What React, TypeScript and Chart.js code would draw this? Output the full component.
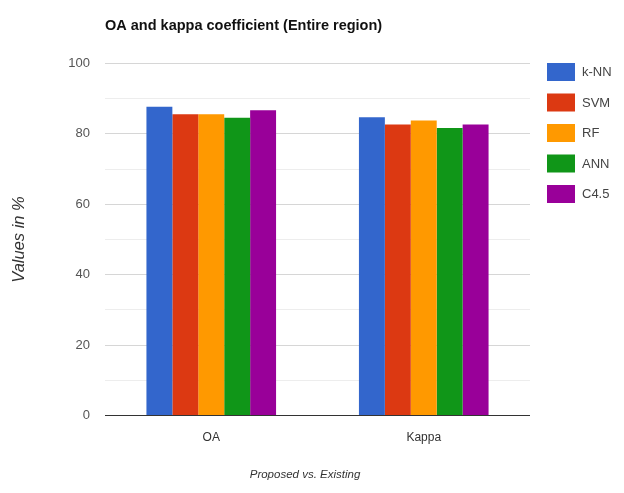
import React, { useEffect, useRef } from "react";
import { Chart, registerables } from "chart.js";

Chart.register(...registerables);

const categories = ["OA", "Kappa"];
const seriesNames = ["k-NN", "SVM", "RF", "ANN", "C4.5"];
const knnValues = [87.7, 84.7];
const svmValues = [85.6, 82.7];
const rfValues = [85.6, 83.8];
const annValues = [84.6, 81.7];
const c45Values = [86.7, 82.7];
const seriesColors = ["#3366cc", "#dc3912", "#ff9900", "#109618", "#990099"];
const yTicks = [0, 20, 40, 60, 80, 100];

const chartTitle = "OA and kappa coefficient (Entire region)";
const xTitle = "Proposed vs. Existing";
const yTitle = "Values in %";

const FONT = "'Liberation Sans', Arial, sans-serif";

// Draws the heading, axis titles and the right-hand legend.
const annotationsPlugin = {
  id: "annotations",
  afterDraw(chart: any) {
    const ctx = chart.ctx as CanvasRenderingContext2D;
    const area = chart.chartArea;
    ctx.save();

    ctx.fillStyle = "#111";
    ctx.font = `bold 14.5px ${FONT}`;
    ctx.textAlign = "left";
    ctx.textBaseline = "middle";
    ctx.fillText(chartTitle, 105, 26);

    ctx.fillStyle = "#333";
    ctx.font = `italic 11.5px ${FONT}`;
    ctx.textAlign = "center";
    ctx.fillText(xTitle, 305, 475);

    ctx.save();
    ctx.font = `italic 16.5px ${FONT}`;
    ctx.translate(19, (area.top + area.bottom) / 2);
    ctx.rotate(-Math.PI / 2);
    ctx.fillText(yTitle, 0, 0);
    ctx.restore();

    ctx.font = `13px ${FONT}`;
    ctx.textAlign = "left";
    chart.data.datasets.forEach((ds: any, i: number) => {
      const y = 63 + i * 30.5;
      ctx.fillStyle = ds.backgroundColor;
      ctx.fillRect(547, y, 28, 18);
      ctx.fillStyle = "#444";
      ctx.fillText(ds.label, 582, y + 9.5);
    });

    ctx.restore();
  },
};

export default function App() {
  const canvasRef = useRef<HTMLCanvasElement | null>(null);

  useEffect(() => {
    document.body.style.margin = "0";
    const canvas = canvasRef.current;
    if (!canvas) return;
    const series = [knnValues, svmValues, rfValues, annValues, c45Values];
    const chart = new Chart(canvas, {
      type: "bar",
      data: {
        labels: categories,
        datasets: series.map((values, i) => ({
          label: seriesNames[i],
          data: values,
          backgroundColor: seriesColors[i],
          borderWidth: 0,
          categoryPercentage: 0.61,
          barPercentage: 1,
        })),
      },
      options: {
        animation: false,
        responsive: false,
        maintainAspectRatio: false,
        devicePixelRatio: 1,
        layout: { padding: { top: 63.5, right: 94, bottom: 0, left: 0 } },
        plugins: {
          legend: { display: false },
          title: { display: false },
          tooltip: { enabled: false },
        },
        scales: {
          x: {
            grid: { display: false, drawTicks: false },
            border: { display: false },
            ticks: {
              color: "#333",
              padding: 15,
              font: { family: FONT, size: 12 },
            },
            afterFit(scale: any) {
              scale.height = 77.5;
            },
          },
          y: {
            min: 0,
            max: 100,
            border: { display: false },
            grid: {
              drawTicks: false,
              lineWidth: 1,
              color: (c: any) => {
                const v = c.tick ? c.tick.value : 0;
                if (v === 0) return "#333";
                if (yTicks.includes(v)) return "#d6d6d6";
                return "#ededed";
              },
            },
            ticks: {
              stepSize: 10,
              color: "#555",
              padding: 15,
              font: { family: FONT, size: 13 },
              callback: (v: any) => (yTicks.includes(Number(v)) ? String(v) : ""),
            },
            afterFit(scale: any) {
              scale.width = 105;
            },
          },
        },
      },
      plugins: [annotationsPlugin],
    });
    return () => chart.destroy();
  }, []);

  return <canvas ref={canvasRef} width={624} height={493} style={{ display: "block" }} />;
}
